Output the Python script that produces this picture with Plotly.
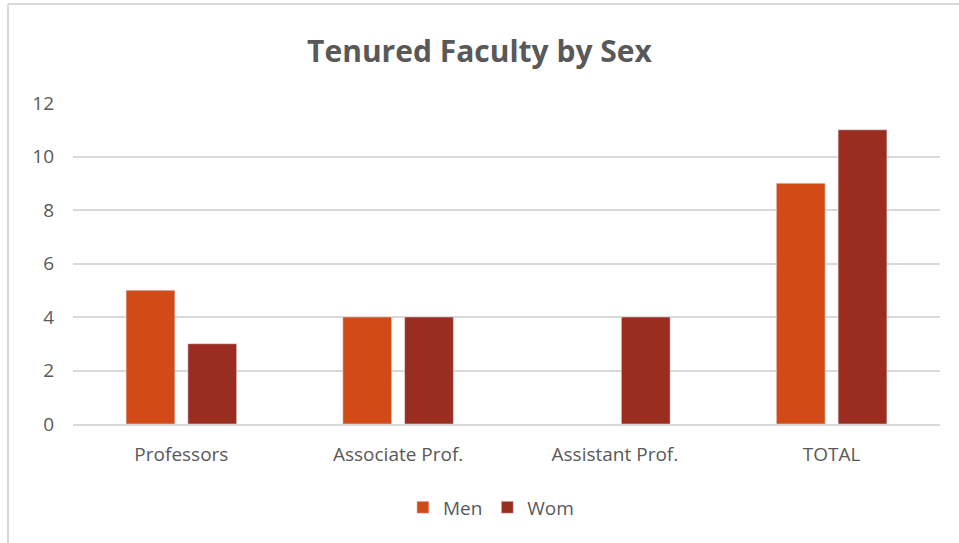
import plotly.graph_objects as go

categories = ["Professors", "Associate Prof.", "Assistant Prof.", "TOTAL"]
men = [5, 4, None, 9]
wom = [3, 4, 4, 11]
y_ticks = [0, 2, 4, 6, 8, 10, 12]

FONT = "Open Sans"
GREY = "#595959"

fig = go.Figure()
fig.add_trace(go.Bar(name="Men", x=categories, y=men, marker=dict(color="#D24A17")))
fig.add_trace(go.Bar(name="Wom", x=categories, y=wom, marker=dict(color="#9B2D20")))

fig.update_layout(
    width=959, height=543,
    margin=dict(l=73, r=19, t=103, b=119),
    paper_bgcolor="white", plot_bgcolor="white",
    barmode="group", bargap=0.43, bargroupgap=0.21,
    title=dict(text="<b>Tenured Faculty by Sex</b>", x=0.5, xanchor="center",
               y=1 - 51 / 543, yanchor="middle",
               font=dict(family=FONT, size=30, color=GREY)),
    font=dict(family=FONT, size=19, color=GREY),
    showlegend=True,
    legend=dict(orientation="h", x=0.482, xanchor="center", y=-0.26, yanchor="middle",
                font=dict(family=FONT, size=19, color=GREY), itemwidth=30,
                traceorder="normal"),
    xaxis=dict(showgrid=False, showline=True, linecolor="#d9d9d9", linewidth=1.5,
               ticks="", tickfont=dict(size=19, color=GREY), ticklabelstandoff=12),
    yaxis=dict(range=[0, 12], tickvals=y_ticks, showgrid=True, gridcolor="#d9d9d9",
               gridwidth=1.5, zeroline=False, showline=False, ticks="",
               tickfont=dict(size=19, color=GREY), ticklabelstandoff=18),
    shapes=[
        dict(type="line", xref="paper", yref="paper", x0=-65 / 867, x1=1 + 19 / 867,
             y0=1 + 99 / 321, y1=1 + 99 / 321, line=dict(color="#d9d9d9", width=2)),
        dict(type="line", xref="paper", yref="paper", x0=-65 / 867, x1=-65 / 867,
             y0=1 + 99 / 321, y1=-119 / 321, line=dict(color="#d9d9d9", width=2)),
    ],
)

fig.write_html("out.html", config={"displayModeBar": False},
               post_script="document.body.style.margin='0';")
